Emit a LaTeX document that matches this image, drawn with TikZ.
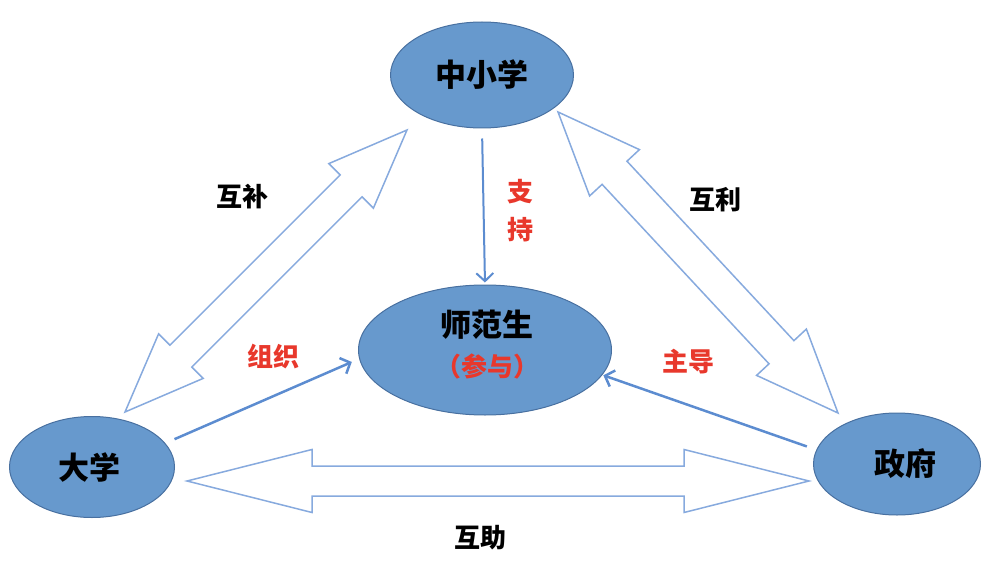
\documentclass[tikz,border=0pt]{standalone}
\usepackage{fontspec}
\newfontfamily\cjk{Noto Sans CJK SC}
\usetikzlibrary{shapes.geometric,arrows.meta,calc}
\definecolor{ellfill}{RGB}{103,153,205}
\definecolor{elldraw}{RGB}{72,112,160}
\definecolor{blockc}{RGB}{135,170,222}
\definecolor{solidc}{RGB}{92,140,208}
\definecolor{redt}{RGB}{232,56,44}
\tikzset{
  ell/.style={ellipse, fill=ellfill, draw=elldraw, line width=1pt, inner sep=0pt,
    font=\cjk\bfseries\fontsize{31}{31}\selectfont},
  lab/.style={font=\cjk\bfseries\fontsize{26}{26}\selectfont, inner sep=0pt},
  redlab/.style={lab, text=redt},
  blockarrow/.style={draw=blockc, line width=1.5pt, line join=miter, fill=white},
  solidarrow/.style={draw=solidc, line width=2.5pt, -{Straight Barb[length=8pt,width=17pt]}},
}
\newcommand\dblblock[5]{%
  \coordinate (ha) at ($(#1)!#3!(#2)$);
  \coordinate (hb) at ($(#2)!#3!(#1)$);
  \draw[blockarrow] (#1) -- ($(ha)!#4!90:(#2)$) -- ($(ha)!#5!90:(#2)$)
    -- ($(hb)!#5!90:(#2)$) -- ($(hb)!#4!90:(#2)$) -- (#2)
    -- ($(hb)!#4!-90:(#2)$) -- ($(hb)!#5!-90:(#2)$)
    -- ($(ha)!#5!-90:(#2)$) -- ($(ha)!#4!-90:(#2)$) -- cycle;
}
\begin{document}
\begin{tikzpicture}[x=1pt,y=-1pt]
\useasboundingbox (0,0) rectangle (1006,572);
% ellipses
\node[ell, minimum width=183pt, minimum height=106pt] (school) at (482,75) {中小学};
\node[ell, minimum width=253pt, minimum height=130pt] (stu) at (485,350) {};
\node[ell, minimum width=165pt, minimum height=101pt] (univ) at (92,467) {大学\hspace*{6pt}};
\node[ell, minimum width=167pt, minimum height=102pt] (gov) at (897,464) {\hspace*{16pt}政府};
\node[font=\cjk\bfseries\fontsize{31}{31}\selectfont, inner sep=0pt] (stut) at (487,325) {师范生};
\node[redlab] (stup) at (487,367) {（参与）};
% block double arrows
\coordinate (bl1) at (125,412);
\coordinate (bl2) at (407,130);
\coordinate (br1) at (558,112);
\coordinate (br2) at (838,413);
\coordinate (bh1) at (187,481);
\coordinate (bh2) at (809,481);
\dblblock{bl1}{bl2}{79pt}{31.5pt}{15.5pt}
\dblblock{br1}{br2}{83pt}{34pt}{17pt}
\dblblock{bh1}{bh2}{125pt}{31.5pt}{15pt}
% solid arrows
\draw[solidarrow, line width=2pt, shorten <=10pt, shorten >=2pt] (school.south) -- (stu.north);
\draw[solidarrow, shorten <=10pt, shorten >=8pt] (univ.18) -- (stu.184);
\draw[solidarrow, shorten <=10pt, shorten >=1pt] (gov.170.5) -- (stu.-12);
% labels
\node[lab] (l1) at (242,197) {互补};
\node[lab] (l2) at (715,200) {互利};
\node[lab] (l3) at (480,538) {互助};
\node[redlab] (l4) at (273,357) {组织};
\node[redlab] (l5) at (688,362) {主导};
\node[redlab, align=center, font=\cjk\bfseries\fontsize{26}{38}\selectfont] (l6) at (520,211) {支\\持};
\end{tikzpicture}
\end{document}
